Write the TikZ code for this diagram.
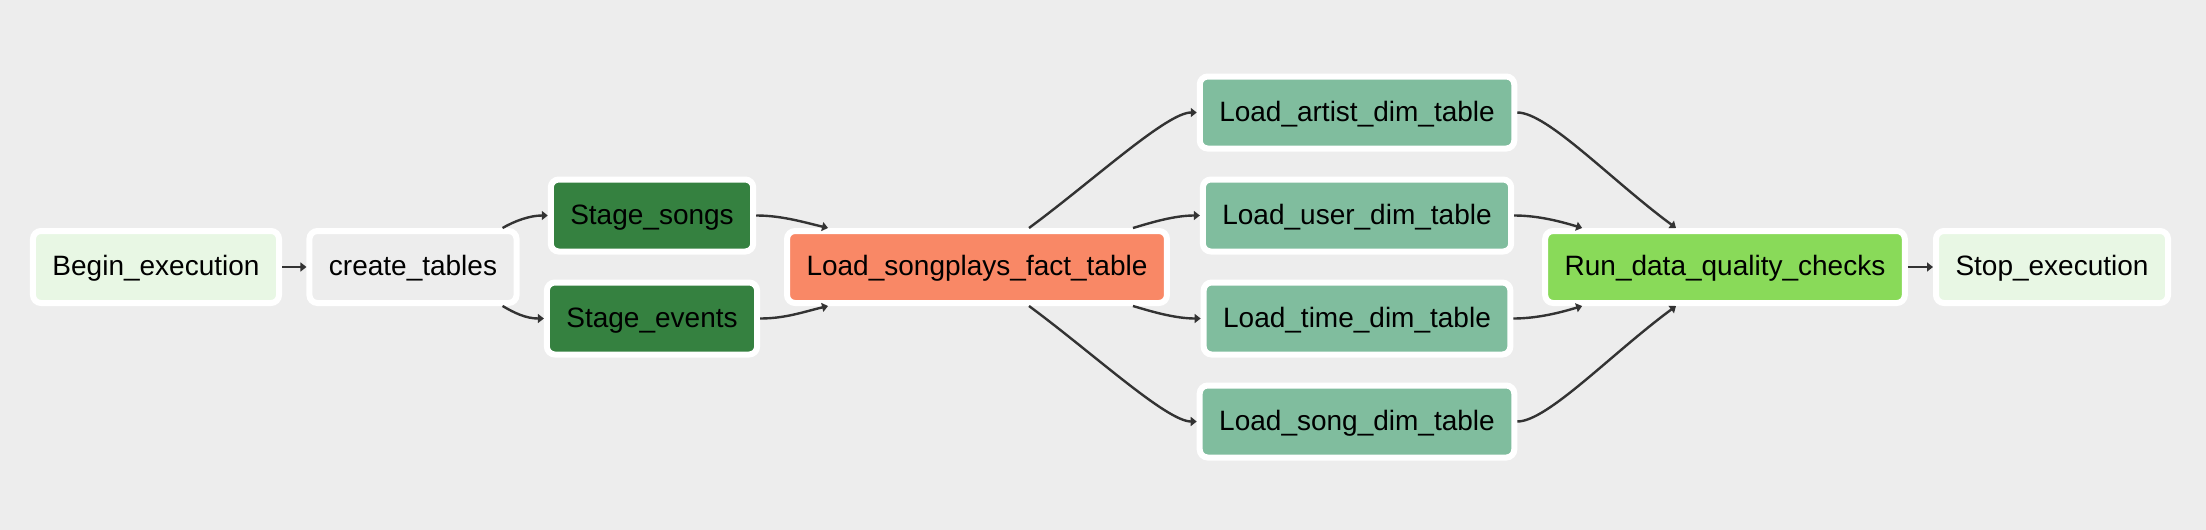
\documentclass[tikz,border=0pt]{standalone}
\usepackage{fontspec}
\setmainfont{Liberation Sans}
\usetikzlibrary{arrows.meta}
\definecolor{bggray}{HTML}{EDEDED}
\definecolor{dummygreen}{HTML}{E8F7E4}
\definecolor{pggray}{HTML}{EDEDED}
\definecolor{stagegreen}{HTML}{358140}
\definecolor{factred}{HTML}{F98866}
\definecolor{dimgreen}{HTML}{80BD9E}
\definecolor{checkgreen}{HTML}{89DA59}
\definecolor{edgegray}{HTML}{333333}

\begin{document}
\begin{tikzpicture}[x=0.5pt, y=-0.5pt,
        task/.style={draw=white, line width=3pt, rounded corners=4pt, minimum height=36pt,
            inner xsep=9.75pt, text height=0.96em, text depth=0.1em,
            font=\fontsize{14pt}{16pt}\selectfont},
        dep/.style={draw=edgegray, line width=1.2pt, -{Triangle[length=3pt,width=4.5pt]}}]
        \fill[bggray] (0,0) rectangle (2206,530);
        \node[task, fill=dummygreen] (begin) at (156,267) {Begin\_execution};
        \node[task, fill=pggray] (ct) at (413,267) {create\_tables};
        \node[task, fill=stagegreen] (ss) at (652,215.5) {Stage\_songs};
        \node[task, fill=stagegreen] (se) at (652,318.5) {Stage\_events};
        \node[task, fill=factred] (fact) at (977,267) {Load\_songplays\_fact\_table};
        \node[task, fill=dimgreen] (artist) at (1357,112.5) {Load\_artist\_dim\_table};
        \node[task, fill=dimgreen] (user) at (1357,215.5) {Load\_user\_dim\_table};
        \node[task, fill=dimgreen] (time) at (1357,318.5) {Load\_time\_dim\_table};
        \node[task, fill=dimgreen] (song) at (1357,421.5) {Load\_song\_dim\_table};
        \node[task, fill=checkgreen] (dq) at (1725,267) {Run\_data\_quality\_checks};
        \node[task, fill=dummygreen] (stop) at (2052,267) {Stop\_execution};
        \draw[dep] (begin) -- (ct);
        \draw[dep] ([xshift=-8.5pt]ct.north east) .. controls +(12,-7) and +(-18,0) .. (ss.west);
        \draw[dep] ([xshift=-8.5pt]ct.south east) .. controls +(12,7) and +(-18,0) .. (se.west);
        \draw[dep] (ss.east) .. controls +(25,0) and +(-25,-6) .. ([xshift=22pt]fact.north west);
        \draw[dep] (se.east) .. controls +(25,0) and +(-25,6) .. ([xshift=22pt]fact.south west);
        \draw[dep] ([xshift=26pt]fact.north) .. controls +(65,-48) and +(-30,0) .. (artist.west);
        \draw[dep] ([xshift=-18.5pt]fact.north east) .. controls +(20,-6) and +(-25,0) .. (user.west);
        \draw[dep] ([xshift=-18.5pt]fact.south east) .. controls +(20,6) and +(-25,0) .. (time.west);
        \draw[dep] ([xshift=26pt]fact.south) .. controls +(65,48) and +(-30,0) .. (song.west);
        \draw[dep] (artist.east) .. controls +(30,0) and +(-65,-48) .. ([xshift=-24.5pt]dq.north);
        \draw[dep] (user.east) .. controls +(25,0) and +(-20,-6) .. ([xshift=20pt]dq.north west);
        \draw[dep] (time.east) .. controls +(25,0) and +(-20,6) .. ([xshift=20pt]dq.south west);
        \draw[dep] (song.east) .. controls +(30,0) and +(-65,48) .. ([xshift=-24.5pt]dq.south);
        \draw[dep] (dq) -- (stop);
    \end{tikzpicture}
\end{document}
